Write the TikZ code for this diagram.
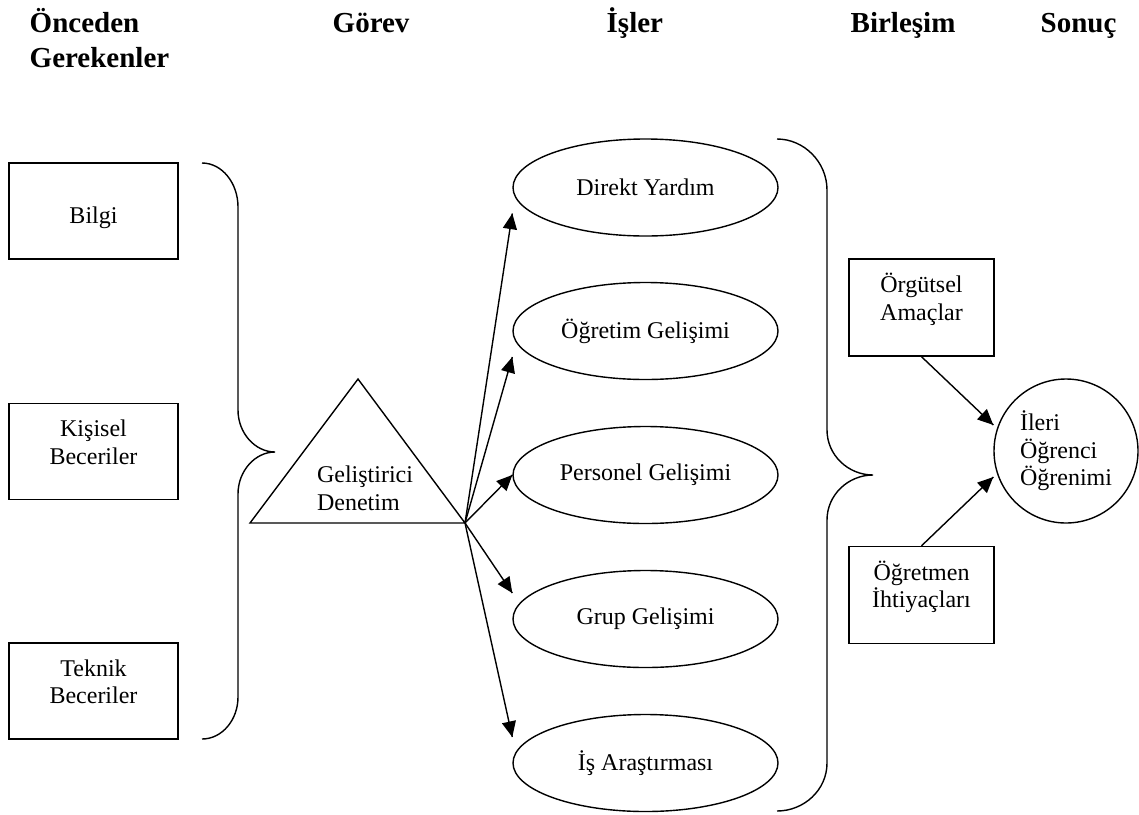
\documentclass[tikz,border=0pt]{standalone}
\usepackage{fontspec}
\setmainfont{Liberation Serif}
\usepackage{tikz}
\usetikzlibrary{arrows.meta}
\usetikzlibrary{decorations.markings}
\usetikzlibrary{shapes.geometric}
\tikzset{arw/.style = {decoration={markings,
                                   mark=at position 1 with {\arrow{Triangle[length=7.8pt, width=7pt]}}},
                       postaction={decorate}}}
\tikzset{box/.style = {draw, rectangle, align = center, inner sep = 0, minimum width = 84.5pt, minimum height = 48pt}}
\tikzset{oval/.style = {draw, ellipse, inner sep = 0, minimum width = 132.5pt, minimum height = 48.5pt}}
\tikzset{head/.style = {anchor = base west, align = left, inner sep = 0, font = \fontsize{14.5}{17.5}\selectfont\bfseries}}
\newcommand{\boxlines}[2]{\rule{0pt}{11pt}#1\\#2\rule[-12pt]{0pt}{12pt}}

\begin{document}
\begin{tikzpicture}[x=0.5pt, y=-0.5pt, line width=0.7pt, font=\fontsize{12}{13.8}\selectfont]
    \useasboundingbox (0, 0) rectangle (1139, 814);

    \node [head] (onceden) at (29, 67) {Önceden\\Gerekenler};
    \node [head] (gorev) at (332, 32) {Görev};
    \node [head] (isler) at (606, 32) {İşler};
    \node [head] (birlesim) at (850, 32) {Birleşim};
    \node [head] (sonuc) at (1040, 32) {Sonuç};

    \node [box] (bilgi) at (93.5, 211) {\boxlines{}{Bilgi}};
    \node [box] (kisisel) at (93.5, 451.5) {\boxlines{Kişisel}{Beceriler}};
    \node [box] (teknik) at (93.5, 691) {\boxlines{Teknik}{Beceriler}};

    \draw (202, 163) .. controls (222, 163) and (238, 183) .. (238, 207) -- (238, 410)
          .. controls (238, 433) and (255, 452) .. (275, 452)
          .. controls (255, 452) and (238, 471) .. (238, 494) -- (238, 697)
          .. controls (238, 720) and (222, 739) .. (202, 739);

    \coordinate (tri-l) at (250, 523);
    \coordinate (tri-t) at (358, 379);
    \coordinate (tri-r) at (465, 523);
    \draw (tri-l) -- (tri-t) -- (tri-r) -- cycle;
    \node [align = left, inner sep = 0] (denetim) at (365, 488) {Geliştirici\\Denetim};

    \node [oval] (direkt) at (645.5, 187.5) {Direkt Yardım};
    \node [oval] (ogretim) at (645.5, 331) {Öğretim Gelişimi};
    \node [oval] (personel) at (645.5, 475) {Personel Gelişimi};
    \node [oval] (grup) at (645.5, 619) {Grup Gelişimi};
    \node [oval] (arastirma) at (645.5, 763) {İş Araştırması};

    \draw [arw] (tri-r) -- ([yshift=-13pt]direkt.west);
    \draw [arw] (tri-r) -- ([yshift=-13pt]ogretim.west);
    \draw [arw] (tri-r) -- (personel.west);
    \draw [arw] (tri-r) -- ([yshift=13pt]grup.west);
    \draw [arw] (tri-r) -- ([yshift=13pt]arastirma.west);

    \draw (777, 139) .. controls (804, 139) and (827, 162) .. (827, 190) -- (827, 430)
          .. controls (827, 455) and (848, 475) .. (873, 475)
          .. controls (848, 475) and (827, 495) .. (827, 520) -- (827, 763)
          .. controls (827, 790) and (804, 811) .. (777, 811);

    \node [box, minimum width = 72.5pt, minimum height = 48.5pt] (orgut) at (921.5, 307.5) {\boxlines{Örgütsel}{Amaçlar}};
    \node [box, minimum width = 72.5pt, minimum height = 48.5pt] (ihtiyac) at (921.5, 595) {\boxlines{Öğretmen}{İhtiyaçları}};
    \node [draw, circle, align = left, inner sep = 0, minimum size = 72pt] (ileri) at (1066, 451) {İleri\\Öğrenci\\Öğrenimi};

    \draw [arw] (orgut.south) -- ([yshift=13pt]ileri.west);
    \draw [arw] (ihtiyac.north) -- ([yshift=-13pt]ileri.west);
  \end{tikzpicture}
\end{document}
